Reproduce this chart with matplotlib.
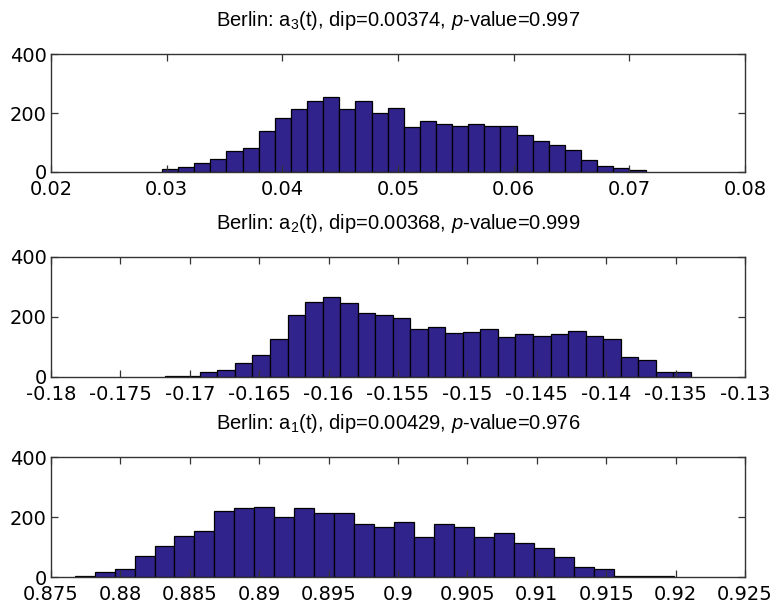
import numpy as np
import matplotlib.pyplot as plt

a3_counts = [11, 17, 32, 44, 72, 82, 138, 184, 212, 240, 254, 212, 240, 201, 217,
             153, 174, 162, 156, 164, 156, 156, 124, 105, 93, 76, 41, 21, 14, 6]
a3_range = (0.0296, 0.0714)
a3_xlim = (0.02, 0.08)
a3_ticks = [0.02, 0.03, 0.04, 0.05, 0.06, 0.07, 0.08]

a2_counts = [4, 4, 15, 22, 47, 74, 125, 207, 251, 268, 246, 212, 207, 196, 160,
             165, 145, 150, 160, 132, 144, 137, 144, 153, 137, 125, 68, 57, 16, 16]
a2_range = (-0.1718, -0.1339)
a2_xlim = (-0.18, -0.13)
a2_ticks = [-0.18, -0.175, -0.17, -0.165, -0.16, -0.155, -0.15, -0.145, -0.14, -0.135, -0.13]

a1_counts = [5, 18, 28, 70, 103, 138, 154, 219, 229, 234, 201, 229, 214, 214, 177,
             166, 182, 134, 177, 166, 134, 146, 114, 98, 66, 32, 28, 3, 3, 3]
a1_range = (0.8767, 0.9199)
a1_xlim = (0.875, 0.925)
a1_ticks = [0.875, 0.88, 0.885, 0.89, 0.895, 0.9, 0.905, 0.91, 0.915, 0.92, 0.925]

titles = [
    r"Berlin: a$_3$(t), dip=0.00374, $p$-value=0.997",
    r"Berlin: a$_2$(t), dip=0.00368, $p$-value=0.999",
    r"Berlin: a$_1$(t), dip=0.00429, $p$-value=0.976",
]

plt.rcParams['font.family'] = ['Liberation Sans', 'DejaVu Sans']
plt.rcParams['mathtext.fontset'] = 'custom'
plt.rcParams['mathtext.rm'] = 'Liberation Sans'
plt.rcParams['mathtext.it'] = 'Liberation Sans:italic'
plt.rcParams['axes.unicode_minus'] = False

fig = plt.figure(figsize=(7.72, 6.03), dpi=100)
posicoes = [
    [0.066, 0.7148, 0.899, 0.1956],
    [0.066, 0.3748, 0.899, 0.1990],
    [0.066, 0.0431, 0.899, 0.1990],
]
dados = [
    (a3_counts, a3_range, a3_xlim, a3_ticks),
    (a2_counts, a2_range, a2_xlim, a2_ticks),
    (a1_counts, a1_range, a1_xlim, a1_ticks),
]

for pos, (counts, rng, xlim, ticks), titulo in zip(posicoes, dados, titles):
    ax = fig.add_axes(pos)
    edges = np.linspace(rng[0], rng[1], len(counts) + 1)
    centros = (edges[:-1] + edges[1:]) / 2
    ax.bar(centros, counts, width=edges[1] - edges[0], color='#31238c',
           edgecolor='black', linewidth=0.9)
    ax.set_xlim(*xlim)
    ax.set_ylim(0, 400)
    ax.set_xticks(ticks)
    ax.set_xticklabels(['%g' % t for t in ticks], family='DejaVu Sans', fontsize=14)
    ax.set_yticks([0, 200, 400])
    ax.set_yticklabels(['0', '200', '400'], family='DejaVu Sans', fontsize=14)
    ax.tick_params(direction='in', length=5, width=0.9, color='#333333',
                   top=True, right=True)
    ax.tick_params(axis='x', pad=6)
    ax.tick_params(axis='y', pad=3)
    for s in ax.spines.values():
        s.set_color('#333333')
        s.set_linewidth(1.0)
    ax.set_title(titulo, fontsize=14.5, pad=20)

plt.savefig('out.png', dpi=100)
